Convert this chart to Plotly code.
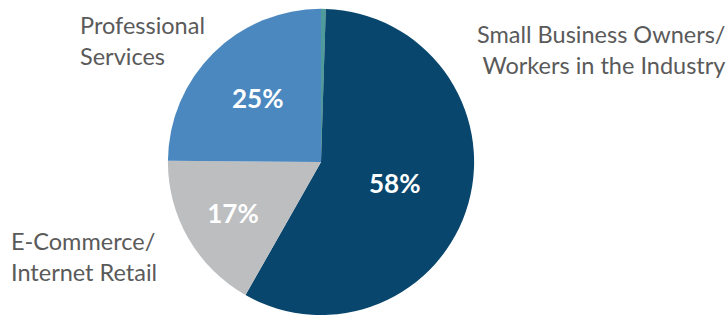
import plotly.graph_objects as go

categories = ["Other", "Small Business Owners/<br>Workers in the Industry", "E-Commerce/<br>Internet Retail", "Professional<br>Services"]
values = [0.5, 58, 17, 25]
pct_labels = ["", "58%", "17%", "25%"]
colors = ["#4f9a9a", "#08466d", "#bdbec0", "#4b88c0"]

fig = go.Figure(go.Pie(
    labels=categories,
    values=values,
    text=pct_labels,
    texttemplate="%{text}",
    textposition="inside",
    insidetextorientation="horizontal",
    insidetextfont=dict(family="Lato", size=26, color="white", weight="bold"),
    marker=dict(colors=colors, line=dict(width=0)),
    sort=False,
    direction="clockwise",
    rotation=0,
    showlegend=False,
    hoverinfo="label+text",
    domain=dict(x=[0.2294, 0.6525], y=[0.0, 0.972]),
))

label_font = dict(family="Lato", size=23.5, color="#5a5a5a")
fig.add_annotation(text=categories[3], x=78/728, y=1 - 9/315, xref="paper", yref="paper",
                   xanchor="left", yanchor="top", align="left", showarrow=False, font=label_font)
fig.add_annotation(text=categories[1], x=727/728, y=1 - 18/315, xref="paper", yref="paper",
                   xanchor="right", yanchor="top", align="right", showarrow=False, font=label_font)
fig.add_annotation(text=categories[2], x=9/728, y=1 - 225/315, xref="paper", yref="paper",
                   xanchor="left", yanchor="top", align="left", showarrow=False, font=label_font)

fig.update_layout(
    width=728, height=315,
    margin=dict(l=0, r=0, t=0, b=0),
    paper_bgcolor="white", plot_bgcolor="white",
)
fig.write_html("out.html", config={"displayModeBar": False},
               post_script="document.body.style.margin='0';")
